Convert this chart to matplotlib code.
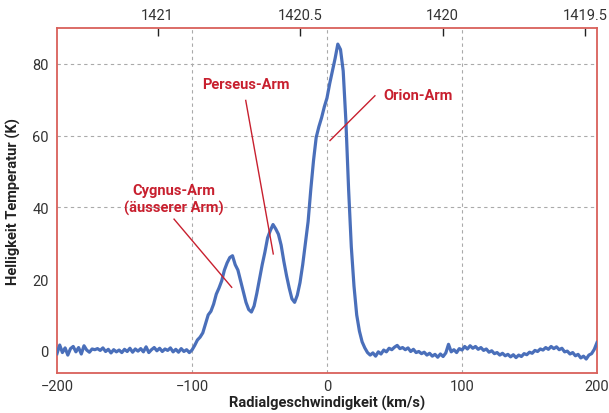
import numpy as np
import matplotlib
matplotlib.use("Agg")
import matplotlib.pyplot as plt

# Radial velocity (km/s), step 2 km/s from -200 to 200
velocity = list(range(-200, 201, 2))
# Brightness temperature (K)
temperature = [
    -0.8, 1.6, -0.5, 0.8, -1.2, 0.6, 1.2, -0.3, 0.9, -0.9,   # -200 .. -182
    1.4, 0.2, -0.4, 0.5, 0.3, 0.6, 0.1, 0.8, -0.2, 0.4,       # -180 .. -162
    -0.6, 0.3, -0.3, 0.2, -0.5, 0.4, -0.2, 0.7, -0.4, 0.5,    # -160 .. -142
    -0.1, 0.6, -0.3, 1.1, -0.5, 0.3, 0.9, 0.0, 0.7, -0.2,     # -140 .. -122
    0.5, 0.1, 0.8, -0.3, 0.4, -0.4, 0.6, -0.2, 0.3, -0.5,     # -120 .. -102
    0.2, 1.5, 3.0, 3.8, 5.0, 7.5, 10.0, 11.0, 13.0, 15.8,     # -100 .. -82
    17.5, 19.5, 22.5, 24.5, 26.0, 26.5, 24.0, 22.5, 19.5, 16.5,  # -80 .. -62
    13.5, 11.5, 10.8, 12.5, 16.0, 20.0, 24.0, 27.5, 31.5, 33.5,  # -60 .. -42
    35.2, 34.0, 32.5, 29.5, 25.0, 21.0, 17.5, 14.5, 13.5, 15.5,  # -40 .. -22
    19.0, 24.0, 30.0, 36.0, 45.0, 53.0, 59.5, 62.5, 65.0, 68.0,  # -20 .. -2
    70.5, 74.5, 78.0, 81.5, 85.5, 84.0, 78.0, 64.0, 45.0, 29.0,  # 0 .. 18
    18.0, 10.0, 5.5, 2.5, 0.8,                                   # 20 .. 28
    -0.5, -1.2, -0.6, -1.5, -0.3, -0.9, 0.2, -0.3, 0.7, 0.3,     # 30 .. 48
    1.0, 1.5, 0.6, 0.9, 0.3, 0.8, -0.2, 0.4, -0.5, -0.2,         # 50 .. 68
    -0.8, -0.4, -1.2, -0.7, -1.5, -1.0, -1.8, -0.9, -1.6, -0.6,  # 70 .. 88
    1.8, -0.3, 0.3, -0.5, 0.6, 0.2, 1.2, 0.5, 1.4, 0.7,          # 90 .. 108
    1.2, 0.4, 0.9, 0.1, 0.5, -0.4, 0.0, -0.8, -0.5, -1.2,        # 110 .. 128
    -0.7, -1.4, -1.0, -1.7, -1.1, -1.9, -1.2, -1.6, -0.8, -1.1,  # 130 .. 148
    -0.4, -0.7, 0.1, -0.2, 0.5, 0.2, 0.9, 0.4, 1.2, 0.6,         # 150 .. 168
    1.1, 0.3, 0.7, -0.3, -0.1, -0.9, -0.5, -1.4, -1.0, -2.0,     # 170 .. 188
    -1.5, -2.3, -1.2, -0.8, 0.4, 2.3,                            # 190 .. 200
]

x_ticks = [-200, -100, 0, 100, 200]
y_ticks = [0, 20, 40, 60, 80]
freq_ticks = [1421, 1420.5, 1420, 1419.5]
grid_x = [-100, 0, 100]
grid_y = [40, 60, 80]

annotations = [
    ("Perseus-Arm", (-60, 74.5), (-60.2, 69.8), (-39.8, 27.0)),
    ("Orion-Arm", (67.5, 71.3), (35.5, 71.1), (2.2, 58.6)),
    ("Cygnus-Arm\n(äusserer Arm)", (-113.3, 42.3), (-113.3, 36.7), (-70.6, 17.7)),
]

F0 = 1420.405751768
C = 299792.458

def v2f(v):
    return F0 * (1 - np.asarray(v, dtype=float) / C)

def f2v(f):
    return C * (1 - np.asarray(f, dtype=float) / F0)

plt.rcParams['font.family'] = ['Roboto', 'DejaVu Sans']

fig = plt.figure(figsize=(6.09, 4.14), dpi=100)
ax = fig.add_axes([0.0936, 0.0966, 0.8867, 0.8334])

blue = '#4a6fba'
red = '#c8202f'
spine_c = '#d9605a'
txt_c = '#333333'

for gx in grid_x:
    ax.axvline(gx, color='#aaaaaa', lw=0.8, ls=(0, (3, 3)), zorder=1)
for gy in grid_y:
    ax.axhline(gy, color='#aaaaaa', lw=0.8, ls=(0, (3, 3)), zorder=1)

ax.plot(velocity, temperature, color=blue, lw=2.3, zorder=3, solid_joinstyle='round')

ax.set_xlim(-200, 200)
ax.set_ylim(-6.2, 90)
ax.set_xticks(x_ticks)
ax.set_yticks(y_ticks)
ax.tick_params(axis='both', length=0, labelsize=10.5, labelcolor=txt_c)
ax.tick_params(axis='x', pad=4)
ax.tick_params(axis='y', pad=6)

for s in ax.spines.values():
    s.set_color(spine_c)
    s.set_linewidth(1.3)

ax.set_xlabel('Radialgeschwindigkeit (km/s)', fontsize=10.5, fontweight='bold',
              color='#222222', labelpad=2)
ax.set_ylabel('Helligkeit Temperatur (K)', fontsize=10.5, fontweight='bold',
              color='#222222', labelpad=8)

sec = ax.secondary_xaxis('top', functions=(v2f, f2v))
sec.set_xticks(freq_ticks)
sec.set_xticklabels(['1421', '1420.5', '1420', '1419.5'])
sec.tick_params(direction='in', length=6, width=1, color='#222222',
                labelsize=10.5, labelcolor=txt_c, pad=4)
sec.spines['top'].set_visible(False)

for label, tpos, p0, p1 in annotations:
    ax.plot([p0[0], p1[0]], [p0[1], p1[1]], color=red, lw=1.0, zorder=4)
    ax.text(tpos[0], tpos[1], label, color=red, fontsize=10.5, fontweight='bold',
            ha='center', va='center', linespacing=1.25, zorder=5)

fig.savefig('out.png', dpi=100)
